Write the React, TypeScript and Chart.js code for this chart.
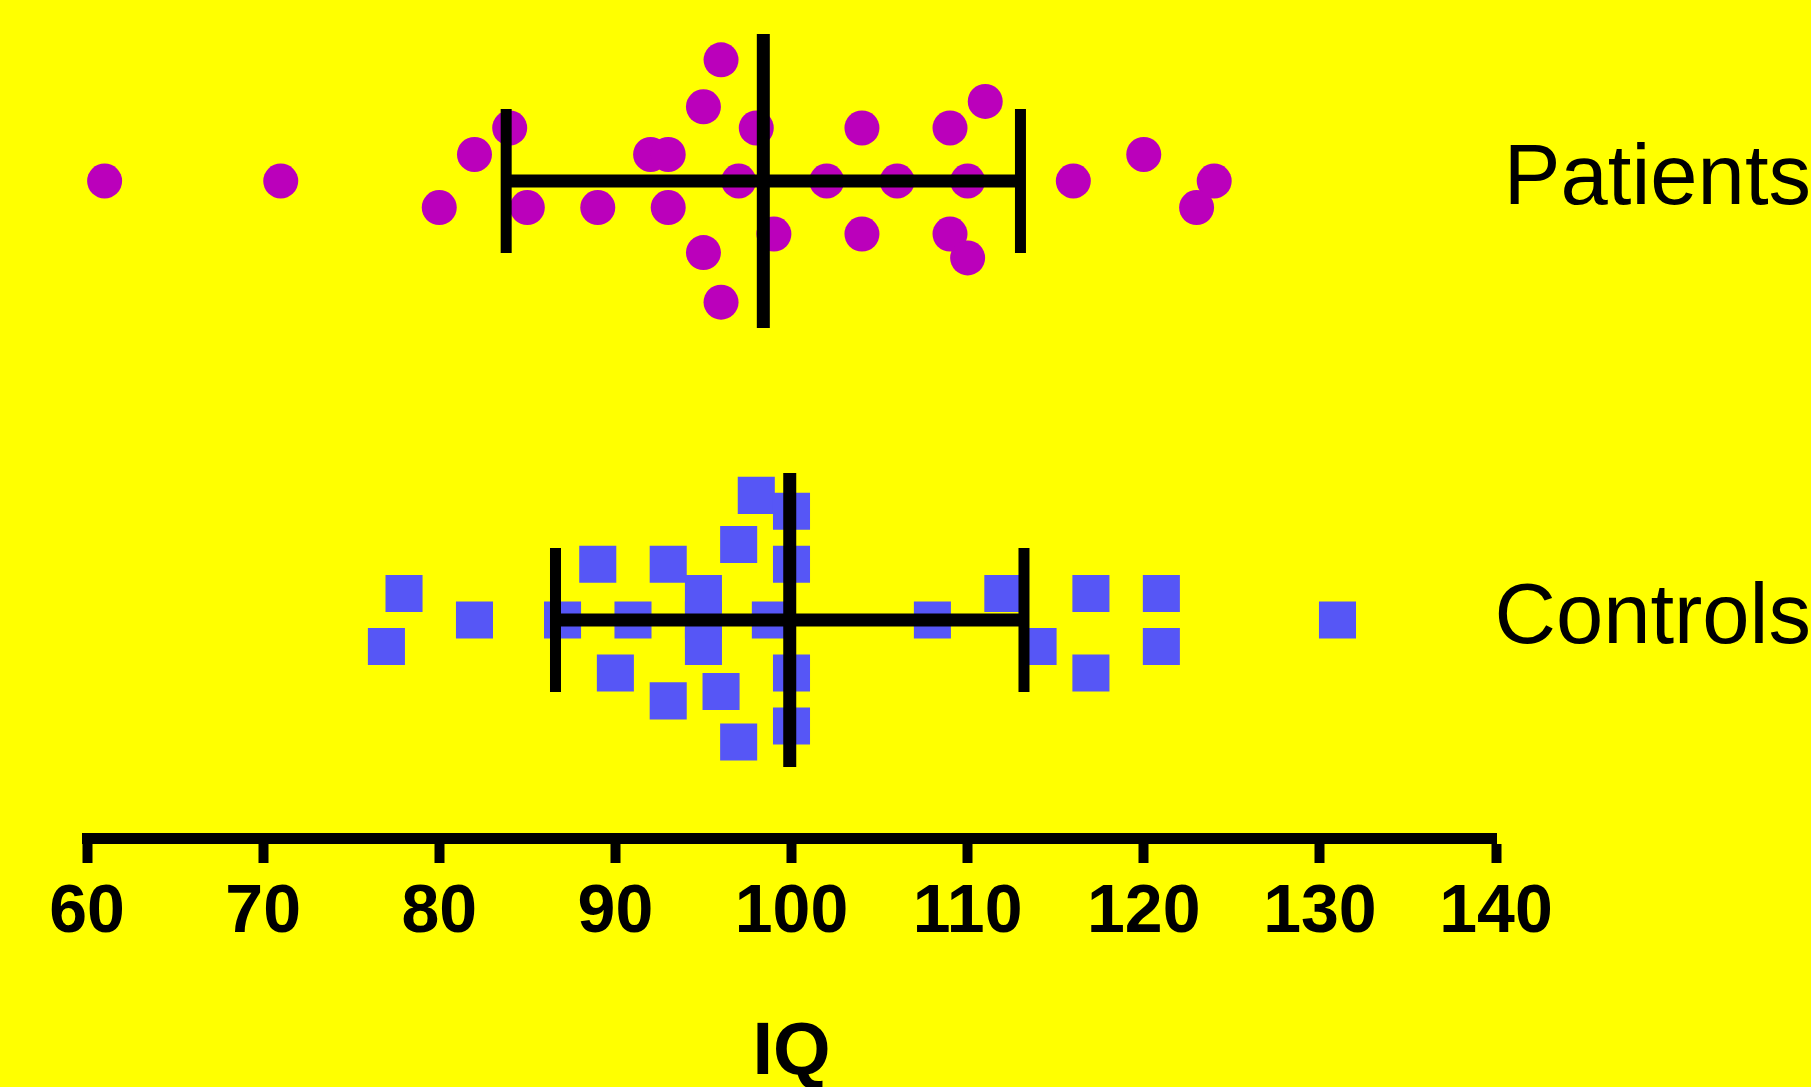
import React, { useEffect, useRef } from 'react';
import { Chart, registerables } from 'chart.js';

Chart.register(...registerables);

// ---- data ----
const groups = ['Patients', 'Controls'];
const groupPositions = [1, 0];

const patientIQ = [61, 71, 96, 95, 98, 104, 111, 109, 84, 82, 92, 93, 120, 97, 102, 106, 110, 116, 124, 80, 85, 89, 93, 123, 99, 104, 109, 95, 110, 96];
const patientLanes = [0, 0, 4.57, 2.8, 2, 2, 3, 2, 2, 1, 1, 1, 1, 0, 0, 0, 0, 0, 0, -1, -1, -1, -1, -1, -2, -2, -2, -2.7, -2.9, -4.57];

const controlIQ = [98, 100, 97, 100, 89, 93, 78, 95, 112, 117, 121, 82, 87, 91, 95, 98.8, 108, 131, 77, 95, 114, 121, 100, 90, 117, 96, 93, 100, 97];
const controlLanes = [4.7, 4.1, 2.85, 2.1, 2.1, 2.1, 1, 1, 1, 1, 1, 0, 0, 0, 0, 0, 0, 0, -1, -1, -1, -1, -2, -2, -2, -2.7, -3.05, -4, -4.6];

const groupMeans = [98.4, 99.9];
const groupSDs = [14.6, 13.3];

const xMin = 60;
const xMax = 140;
const xStep = 10;
const xTitle = 'IQ';

// ---- styling / layout ----
const FONT = "'Liberation Sans', Arial, sans-serif";
const LANE_STEP = 0.0604;
const MEAN_HALF = 0.335;
const CAP_HALF = 0.164;
const COLORS = ['rgb(187,0,187)', 'rgb(86,86,246)'];

function pointDataset(vals: number[], lanes: number[], pos: number, color: string, style: string, radius: number) {
  return {
    type: 'scatter' as const,
    data: vals.map((v, i) => ({ x: v, y: pos + lanes[i] * LANE_STEP })),
    pointStyle: style,
    pointRadius: radius,
    pointHoverRadius: radius,
    pointBackgroundColor: color,
    pointBorderWidth: 0,
    borderWidth: 0,
    showLine: false,
    order: 2,
    clip: false as any,
  };
}

function segment(x1: number, y1: number, x2: number, y2: number, w: number) {
  return {
    type: 'scatter' as const,
    data: [{ x: x1, y: y1 }, { x: x2, y: y2 }],
    showLine: true,
    borderColor: '#000',
    borderWidth: w,
    pointRadius: 0,
    pointHoverRadius: 0,
    fill: false,
    order: 1,
    clip: false as any,
  };
}

function errorBars(gi: number) {
  const m = groupMeans[gi];
  const sd = groupSDs[gi];
  const p = groupPositions[gi];
  return [
    segment(m - sd, p, m + sd, p, 13),
    segment(m, p - MEAN_HALF, m, p + MEAN_HALF, 13),
    segment(m - sd, p - CAP_HALF, m - sd, p + CAP_HALF, 11),
    segment(m + sd, p - CAP_HALF, m + sd, p + CAP_HALF, 11),
  ];
}

export default function App() {
  const ref = useRef<HTMLCanvasElement | null>(null);

  useEffect(() => {
    if (!ref.current) return;
    const datasets: any[] = [
      ...errorBars(0),
      ...errorBars(1),
      pointDataset(patientIQ, patientLanes, groupPositions[0], COLORS[0], 'circle', 17.5),
      pointDataset(controlIQ, controlLanes, groupPositions[1], COLORS[1], 'rect', 26.2),
    ];

    const chart = new Chart(ref.current, {
      type: 'scatter',
      data: { datasets },
      options: {
        animation: false,
        responsive: false,
        devicePixelRatio: 1,
        events: [],
        layout: { autoPadding: false, padding: { left: 87, right: 0, top: 0, bottom: 0 } },
        plugins: { legend: { display: false }, tooltip: { enabled: false }, title: { display: false } },
        scales: {
          x: {
            type: 'linear',
            position: 'bottom',
            min: xMin,
            max: xMax,
            ticks: {
              stepSize: xStep,
              autoSkip: false,
              maxRotation: 0,
              minRotation: 0,
              color: '#000',
              padding: 9,
              font: { family: FONT, weight: 'bold', size: 68 },
            },
            grid: {
              display: true,
              drawOnChartArea: false,
              drawTicks: true,
              tickLength: 25,
              tickWidth: 10,
              tickColor: '#000',
            },
            border: { display: true, width: 11, color: '#000' },
            title: {
              display: true,
              text: xTitle,
              color: '#000',
              font: { family: FONT, weight: 'bold', size: 74, lineHeight: 1 },
              padding: { top: 0, bottom: -4 },
            },
            afterFit: (s: any) => {
              s.height = 249;
              s.paddingLeft = 0;
              s.paddingRight = 0;
            },
          },
          y: {
            type: 'linear',
            position: 'right',
            min: -218 / 439,
            max: 1 + 181 / 439,
            afterBuildTicks: (s: any) => {
              s.ticks = groupPositions.map((v) => ({ value: v }));
            },
            ticks: {
              callback: (v: any) => groups[groupPositions.indexOf(Number(v))],
              color: '#000',
              padding: -10,
              crossAlign: 'far',
              font: { family: FONT, size: 85 },
            },
            grid: { display: false, drawTicks: false },
            border: { display: false },
            afterFit: (s: any) => {
              s.width = 315;
              s.paddingTop = 0;
              s.paddingBottom = 0;
            },
          },
        },
      } as any,
    });
    return () => chart.destroy();
  }, []);

  return (
    <div
      style={{
        position: 'fixed',
        left: 0,
        top: 0,
        width: '1811px',
        height: '1087px',
        background: '#FFFF00',
        overflow: 'hidden',
      }}
    >
      <canvas ref={ref} width={1811} height={1087} style={{ display: 'block', width: '1811px', height: '1087px' }} />
    </div>
  );
}
